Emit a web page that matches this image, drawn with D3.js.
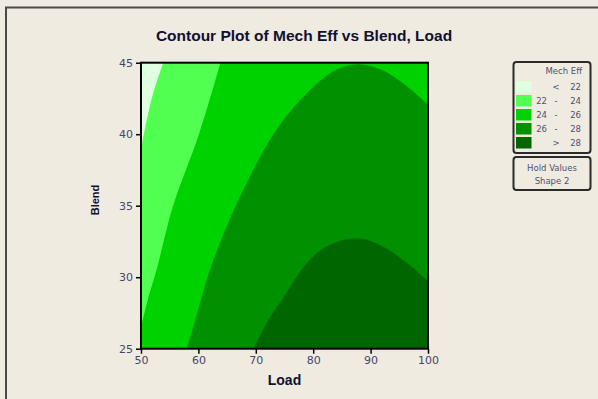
<!DOCTYPE html>
<html>
<head>
<meta charset="utf-8">
<script src="https://cdn.jsdelivr.net/npm/d3@7"></script>
<style>
  body { margin: 0; background: #efebe1; }
  svg { display: block; }
</style>
</head>
<body>
<script>
// contour boundaries, as [Load, Blend] points
const levels = [22, 24, 26, 28];
const contour22 = [[50, 39], [51.8, 42.4], [53.85, 45]];
const contour24 = [[50, 26.5], [51.3, 28.6], [52.7, 30.5], [55.6, 35], [60.1, 40], [63.85, 45]];
const contour26 = [[58, 25], [60.3, 28.2], [62, 30.5], [66.5, 35], [73.4, 40.2], [79, 42.9],
  [84, 44.5], [87.8, 44.89], [91.6, 44.56], [94.5, 43.9], [97.4, 43.0], [100, 42.04]];
const contour28 = [[69.6, 25], [72.2, 27], [75.1, 28.75], [77.7, 30.38], [80.6, 31.67],
  [83.5, 32.37], [87.8, 32.72], [92.2, 32.13], [96.8, 30.85], [100, 29.69]];
const loadTicks = [50, 60, 70, 80, 90, 100];
const blendTicks = [25, 30, 35, 40, 45];
const legendRows = [['', '<', '22'], ['22', '-', '24'], ['24', '-', '26'], ['26', '-', '28'], ['', '>', '28']];
const holdValues = ['Hold Values', 'Shape  2'];

const colors = ['#e0ffe0', '#50ff50', '#00d200', '#009000', '#006600'];
const bg = '#efebe1';

const width = 598;
const height = 399;
const plot = { left: 141, right: 428, top: 62.7, bottom: 348.7 };

const svg = d3.select('body')
  .append('svg')
  .attr('width', width)
  .attr('height', height)
  .style('font-family', 'DejaVu Sans, sans-serif');

svg.append('rect').attr('width', width).attr('height', height).attr('fill', bg);

// frame at top and left
svg.append('path')
  .attr('d', `M6,${height}V7.5H${width}`)
  .attr('fill', 'none')
  .attr('stroke', '#4a4a4a')
  .attr('stroke-width', 2);

const x = d3.scaleLinear().domain([50, 100]).range([plot.left, plot.right]);
const y = d3.scaleLinear().domain([25, 45]).range([plot.bottom, plot.top]);

svg.append('defs').append('clipPath').attr('id', 'plot-clip')
  .append('rect')
  .attr('x', plot.left).attr('y', plot.top)
  .attr('width', plot.right - plot.left).attr('height', plot.bottom - plot.top);

const g = svg.append('g').attr('clip-path', 'url(#plot-clip)');

g.append('rect')
  .attr('x', plot.left).attr('y', plot.top)
  .attr('width', plot.right - plot.left).attr('height', plot.bottom - plot.top)
  .attr('fill', colors[0]);

const line = d3.line().x((d) => x(d[0])).y((d) => y(d[1])).curve(d3.curveCatmullRom);

// each band is the area past its contour, closed through the plot corners
const bands = [
  { pts: contour22, close: [[100, 45], [100, 25], [50, 25]] },
  { pts: contour24, close: [[100, 45], [100, 25], [50, 25]] },
  { pts: contour26, close: [[100, 25]] },
  { pts: contour28, close: [[100, 25]] },
];

g.selectAll('path.band')
  .data(bands)
  .join('path')
  .attr('class', 'band')
  .attr('fill', (d, i) => colors[i + 1])
  .attr('d', (d) => line(d.pts) + d.close.map((c) => `L${x(c[0])},${y(c[1])}`).join('') + 'Z');

// axes
const xAxis = svg.append('g')
  .attr('transform', `translate(0,${plot.bottom})`)
  .call(d3.axisBottom(x).tickValues(loadTicks).tickSize(5).tickPadding(3));
const yAxis = svg.append('g')
  .attr('transform', `translate(${plot.left},0)`)
  .call(d3.axisLeft(y).tickValues(blendTicks).tickSize(5).tickPadding(3));

[xAxis, yAxis].forEach((a) => {
  a.select('.domain').remove();
  a.selectAll('.tick line').attr('stroke', '#000').attr('stroke-width', 1.5);
  a.selectAll('.tick text')
    .attr('fill', '#46466a')
    .style('font-size', '11px')
    .style('font-family', 'DejaVu Sans, sans-serif');
});

svg.append('rect')
  .attr('x', plot.left).attr('y', plot.top)
  .attr('width', plot.right - plot.left).attr('height', plot.bottom - plot.top)
  .attr('fill', 'none')
  .attr('stroke', '#000')
  .attr('stroke-width', 2);

// titles
svg.append('text')
  .attr('x', 304).attr('y', 41)
  .attr('text-anchor', 'middle')
  .style('font-family', 'Liberation Sans, Arial, sans-serif')
  .style('font-weight', 'bold')
  .style('font-size', '15.5px')
  .attr('fill', '#101030')
  .text('Contour Plot of Mech Eff vs Blend, Load');

svg.append('text')
  .attr('x', (plot.left + plot.right) / 2).attr('y', 385)
  .attr('text-anchor', 'middle')
  .style('font-family', 'Liberation Sans, Arial, sans-serif')
  .style('font-weight', 'bold')
  .style('font-size', '14px')
  .attr('fill', '#101030')
  .text('Load');

svg.append('text')
  .attr('transform', 'translate(98.5,200) rotate(-90)')
  .attr('text-anchor', 'middle')
  .style('font-family', 'Liberation Sans, Arial, sans-serif')
  .style('font-weight', 'bold')
  .style('font-size', '11px')
  .attr('fill', '#101030')
  .text('Blend');

// legend
const legend = svg.append('g').style('font-size', '8.5px').attr('fill', '#50506e');

legend.append('rect')
  .attr('x', 513.5).attr('y', 62).attr('width', 77).attr('height', 91).attr('rx', 3)
  .attr('fill', bg).attr('stroke', '#2a2a2a').attr('stroke-width', 2);

legend.append('text').attr('x', 582).attr('y', 74).attr('text-anchor', 'end').text('Mech Eff');

const rows = legend.selectAll('g.row')
  .data(legendRows)
  .join('g')
  .attr('class', 'row')
  .attr('transform', (d, i) => `translate(0,${81 + i * 14})`);

rows.append('rect')
  .attr('x', 516).attr('width', 15.5).attr('height', 11.5)
  .attr('fill', (d, i) => colors[i]);
rows.append('text').attr('x', 547).attr('y', 9).attr('text-anchor', 'end').text((d) => d[0]);
rows.append('text').attr('x', 556).attr('y', 9).attr('text-anchor', 'middle').text((d) => d[1]);
rows.append('text').attr('x', 581).attr('y', 9).attr('text-anchor', 'end').text((d) => d[2]);

legend.append('rect')
  .attr('x', 513.5).attr('y', 157).attr('width', 77).attr('height', 33).attr('rx', 3)
  .attr('fill', bg).attr('stroke', '#2a2a2a').attr('stroke-width', 2);

legend.selectAll('text.hold')
  .data(holdValues)
  .join('text')
  .attr('class', 'hold')
  .attr('x', 552).attr('y', (d, i) => 171 + i * 13)
  .attr('text-anchor', 'middle')
  .text((d) => d);
</script>
</body>
</html>
